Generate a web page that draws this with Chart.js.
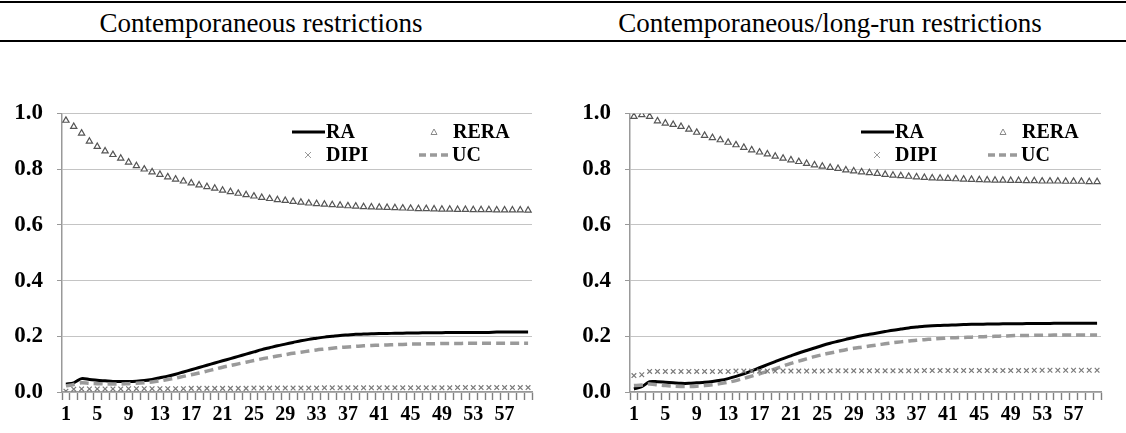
<!DOCTYPE html>
<html>
<head>
<meta charset="utf-8">
<script src="https://cdn.jsdelivr.net/npm/chart.js@4"></script>
<style>
  body { margin: 0; background: #fff; width: 1126px; height: 433px; overflow: hidden; position: relative; font-family: "Liberation Serif", "Times New Roman", serif; }
  .rule { position: absolute; left: 0; width: 1126px; height: 2px; background: #000; }
  .head { position: absolute; top: 8px; font-size: 27px; line-height: 30px; white-space: nowrap; transform: translateX(-50%); }
  canvas { position: absolute; top: 95px; }
</style>
</head>
<body>
<div class="rule" style="top:1px"></div>
<div class="head" style="left:261px">Contemporaneous restrictions</div>
<div class="head" style="left:830px">Contemporaneous/long-run restrictions</div>
<div class="rule" style="top:40px"></div>
<canvas id="left" width="563" height="338" style="left:0"></canvas>
<canvas id="right" width="563" height="338" style="left:563px"></canvas>
<script>
const periods = [1,2,3,4,5,6,7,8,9,10,11,12,13,14,15,16,17,18,19,20,
  21,22,23,24,25,26,27,28,29,30,31,32,33,34,35,36,37,38,39,40,
  41,42,43,44,45,46,47,48,49,50,51,52,53,54,55,56,57,58,59,60];
const yTicks = [0, 0.2, 0.4, 0.6, 0.8, 1.0];

// contemporaneous restrictions
const raC = [0.028,0.033,0.048,0.045,0.042,0.040,0.038,0.038,0.038,0.039,
  0.041,0.045,0.051,0.057,0.064,0.072,0.080,0.088,0.096,0.104,
  0.112,0.120,0.128,0.136,0.144,0.152,0.159,0.166,0.172,0.178,
  0.184,0.189,0.193,0.197,0.200,0.203,0.205,0.207,0.208,0.209,
  0.210,0.210,0.211,0.211,0.212,0.212,0.213,0.213,0.213,0.214,
  0.214,0.214,0.214,0.214,0.214,0.215,0.215,0.215,0.215,0.215];
const reraC = [0.975,0.953,0.929,0.900,0.881,0.865,0.852,0.839,0.825,0.812,
  0.800,0.790,0.781,0.772,0.764,0.757,0.750,0.743,0.737,0.731,
  0.724,0.719,0.713,0.708,0.703,0.698,0.694,0.690,0.687,0.684,
  0.681,0.678,0.676,0.674,0.672,0.670,0.668,0.667,0.665,0.664,
  0.663,0.662,0.661,0.660,0.659,0.658,0.658,0.657,0.656,0.656,
  0.655,0.655,0.654,0.654,0.654,0.653,0.653,0.653,0.653,0.652];
const dipiC = [0.003,0.010,0.011,0.011,0.011,0.011,0.011,0.011,0.012,0.012,
  0.012,0.012,0.012,0.012,0.012,0.012,0.013,0.013,0.013,0.013,
  0.013,0.013,0.013,0.013,0.014,0.014,0.014,0.014,0.014,0.014,
  0.014,0.014,0.014,0.015,0.015,0.015,0.015,0.015,0.015,0.015,
  0.015,0.015,0.015,0.015,0.015,0.015,0.015,0.015,0.015,0.015,
  0.016,0.016,0.016,0.016,0.016,0.016,0.016,0.016,0.016,0.016];
const ucC = [0.022,0.027,0.033,0.031,0.030,0.029,0.029,0.029,0.030,0.031,
  0.033,0.036,0.040,0.045,0.050,0.056,0.062,0.068,0.075,0.082,
  0.089,0.095,0.101,0.107,0.113,0.119,0.124,0.129,0.134,0.139,
  0.143,0.147,0.151,0.154,0.157,0.160,0.162,0.164,0.166,0.167,
  0.168,0.169,0.170,0.171,0.172,0.172,0.173,0.173,0.174,0.174,
  0.174,0.175,0.175,0.175,0.175,0.175,0.175,0.175,0.175,0.175];

// contemporaneous/long-run restrictions
const raL = [0.011,0.019,0.037,0.037,0.035,0.033,0.031,0.031,0.033,0.035,
  0.038,0.042,0.048,0.056,0.065,0.076,0.087,0.098,0.109,0.120,
  0.130,0.140,0.149,0.158,0.167,0.175,0.182,0.189,0.196,0.202,
  0.207,0.212,0.217,0.222,0.226,0.230,0.233,0.236,0.238,0.239,
  0.240,0.241,0.242,0.243,0.243,0.244,0.244,0.245,0.245,0.245,
  0.246,0.246,0.246,0.246,0.247,0.247,0.247,0.247,0.247,0.247];
const reraL = [0.989,0.995,0.989,0.973,0.965,0.960,0.953,0.943,0.932,0.921,
  0.913,0.905,0.896,0.887,0.878,0.869,0.861,0.854,0.846,0.839,
  0.833,0.827,0.820,0.815,0.810,0.806,0.802,0.797,0.793,0.790,
  0.787,0.784,0.781,0.778,0.776,0.774,0.772,0.770,0.768,0.767,
  0.766,0.765,0.764,0.763,0.762,0.761,0.760,0.760,0.759,0.759,
  0.758,0.758,0.757,0.757,0.757,0.756,0.756,0.756,0.755,0.755];
const dipiL = [0.059,0.062,0.074,0.074,0.074,0.074,0.074,0.074,0.074,0.074,
  0.074,0.074,0.074,0.075,0.075,0.075,0.075,0.075,0.075,0.075,
  0.075,0.075,0.075,0.075,0.075,0.076,0.076,0.076,0.076,0.076,
  0.076,0.076,0.076,0.076,0.076,0.076,0.076,0.077,0.077,0.077,
  0.077,0.077,0.077,0.077,0.077,0.077,0.077,0.077,0.077,0.077,
  0.077,0.078,0.078,0.078,0.078,0.078,0.078,0.078,0.078,0.078];
const ucL = [0.023,0.025,0.029,0.026,0.023,0.021,0.020,0.020,0.021,0.023,
  0.026,0.030,0.035,0.041,0.049,0.057,0.065,0.074,0.083,0.093,
  0.103,0.111,0.119,0.127,0.134,0.140,0.146,0.152,0.157,0.161,
  0.165,0.169,0.173,0.177,0.180,0.183,0.186,0.188,0.190,0.192,
  0.194,0.195,0.196,0.197,0.198,0.199,0.200,0.201,0.202,0.203,
  0.203,0.204,0.204,0.204,0.205,0.205,0.205,0.205,0.205,0.205];

const FONT = '"Liberation Serif", "Times New Roman", serif';
const UC_GRAY = '#9a9a9a';

// legend drawn inside the plot, top right, two columns like the original
const legendPlugin = {
  id: 'cornerLegend',
  afterDraw(chart) {
    const { ctx, chartArea } = chart;
    const r = chartArea.right, t = chartArea.top;
    const y1 = t + 18.5, y2 = t + 41.5;
    ctx.save();
    ctx.font = 'bold 20px ' + FONT;
    ctx.fillStyle = '#000';
    ctx.textBaseline = 'middle';
    // RA
    ctx.strokeStyle = '#000';
    ctx.lineWidth = 3;
    ctx.beginPath(); ctx.moveTo(r - 240, y1); ctx.lineTo(r - 207, y1); ctx.stroke();
    ctx.fillText('RA', r - 206, y1 + 1);
    // RERA
    ctx.strokeStyle = '#888';
    ctx.lineWidth = 1;
    ctx.beginPath();
    ctx.moveTo(r - 98, y1 - 3); ctx.lineTo(r - 95, y1 + 2.5); ctx.lineTo(r - 101, y1 + 2.5); ctx.closePath();
    ctx.stroke();
    ctx.fillText('RERA', r - 79, y1 + 1);
    // DIPI
    ctx.strokeStyle = '#999';
    ctx.beginPath();
    ctx.moveTo(r - 227, y2 - 3); ctx.lineTo(r - 221, y2 + 3);
    ctx.moveTo(r - 221, y2 - 3); ctx.lineTo(r - 227, y2 + 3);
    ctx.stroke();
    ctx.fillText('DIPI', r - 206, y2 + 1);
    // UC
    ctx.strokeStyle = UC_GRAY;
    ctx.lineWidth = 3.5;
    ctx.setLineDash([7, 4]);
    ctx.beginPath(); ctx.moveTo(r - 113, y2); ctx.lineTo(r - 81, y2); ctx.stroke();
    ctx.setLineDash([]);
    ctx.fillText('UC', r - 80, y2 + 1);
    ctx.restore();
  }
};

function makeChart(id, ra, rera, dipi, uc, yWidth, padRight) {
  return new Chart(document.getElementById(id), {
    type: 'line',
    data: {
      labels: periods,
      datasets: [
        { label: 'RERA', data: rera, showLine: false, pointStyle: 'triangle',
          pointRadius: 3.6, pointBorderWidth: 1.2, pointBorderColor: '#555', pointBackgroundColor: '#fff' },
        { label: 'DIPI', data: dipi, showLine: false, pointStyle: 'crossRot',
          pointRadius: 3.3, pointBorderWidth: 1.2, pointBorderColor: '#7a7a7a' },
        { label: 'UC', data: uc, borderColor: UC_GRAY, borderWidth: 3.5, borderDash: [9, 5],
          pointRadius: 0, tension: 0.3 },
        { label: 'RA', data: ra, borderColor: '#000', borderWidth: 3,
          pointRadius: 0, tension: 0.3 }
      ]
    },
    options: {
      responsive: false,
      animation: false,
      layout: { padding: { top: 18.5, right: padRight, left: 0, bottom: 0 } },
      plugins: { legend: { display: false }, tooltip: { enabled: false } },
      scales: {
        x: {
          type: 'category',
          offset: true,
          grid: { offset: true, drawOnChartArea: false, drawTicks: true, tickLength: 8,
                  tickColor: '#808080', tickWidth: 1.4, color: '#808080' },
          border: { color: '#999', width: 1.5 },
          ticks: {
            autoSkip: false, maxRotation: 0, minRotation: 0, padding: 3,
            color: '#000', font: { family: FONT, size: 20, weight: 'bold' },
            callback: (v, i) => (i % 4 === 0 ? String(periods[i]) : ' ')
          },
          afterFit: s => { s.height = 41; s.paddingLeft = 0; s.paddingRight = 0; }
        },
        y: {
          min: 0, max: 1,
          afterBuildTicks: s => { s.ticks = yTicks.map(v => ({ value: v })); },
          grid: { color: '#c4c4c4', lineWidth: 1, tickLength: 5, tickColor: '#999' },
          border: { color: '#999', width: 1.5 },
          ticks: {
            padding: 14, color: '#000', font: { family: FONT, size: 23, weight: 'bold' },
            callback: v => v.toFixed(1)
          },
          afterFit: s => { s.width = yWidth; s.paddingTop = 0; s.paddingBottom = 0; }
        }
      }
    },
    plugins: [legendPlugin]
  });
}

makeChart('left', raC, reraC, dipiC, ucC, 62, 31);
makeChart('right', raL, reraL, dipiL, ucL, 67, 25);
</script>
</body>
</html>
